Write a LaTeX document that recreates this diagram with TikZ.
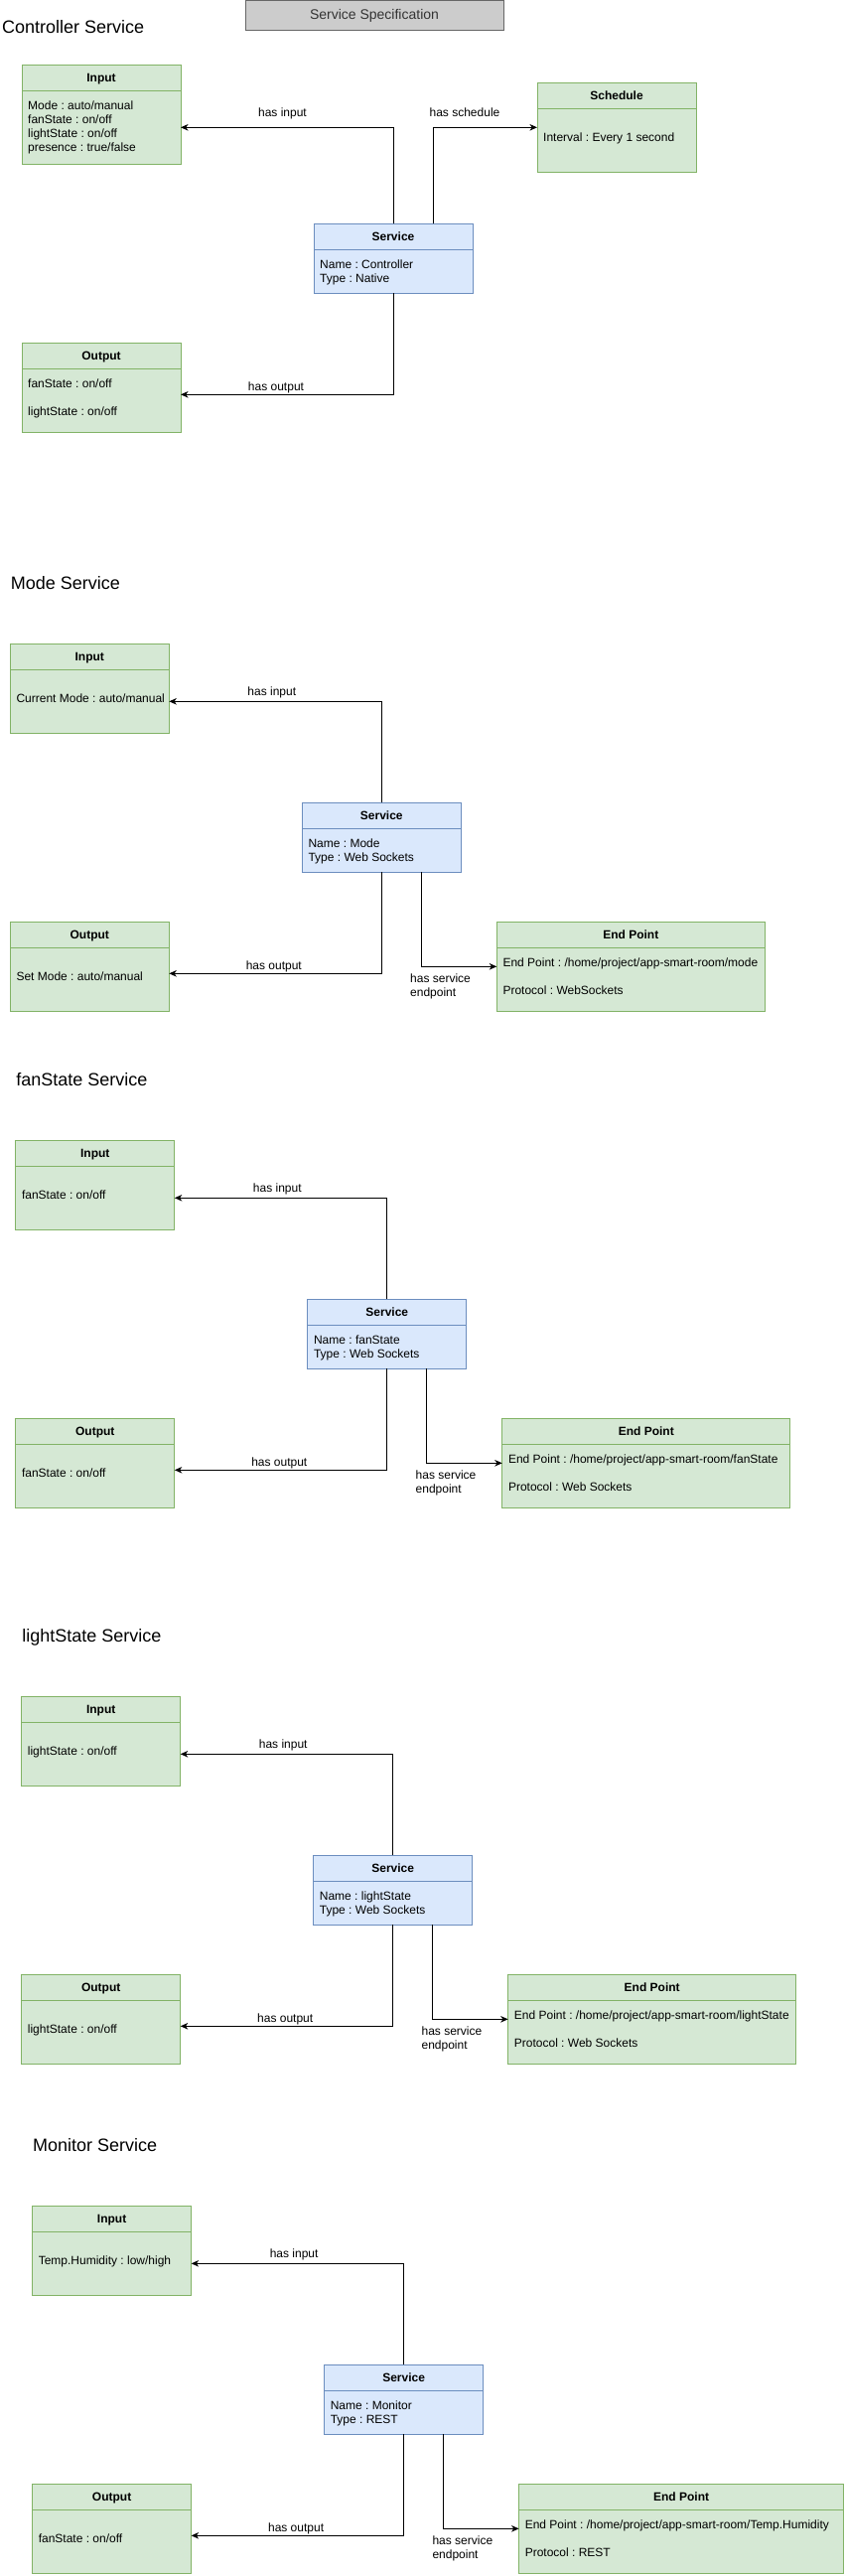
\documentclass[tikz,border=0pt]{standalone}
\usepackage{fontspec}
\setmainfont{Liberation Sans}
\usetikzlibrary{arrows.meta}
\definecolor{grnf}{HTML}{D5E8D4}
\definecolor{grnd}{HTML}{82B366}
\definecolor{bluf}{HTML}{DAE8FC}
\definecolor{blud}{HTML}{6C8EBF}
\definecolor{specf}{HTML}{CCCCCC}
\definecolor{specd}{HTML}{666666}
\definecolor{spect}{HTML}{333333}
\frenchspacing
\begin{document}
\begin{tikzpicture}[x=1pt,y=-1pt,>={Stealth[length=7.5pt,width=6.5pt,inset=2.2pt]},
	grn/.style={draw=grnd,fill=grnf,line width=1pt,inner sep=0,outer sep=0,anchor=north west,minimum width=160,minimum height=90},
	blu/.style={draw=blud,fill=bluf,line width=1pt,inner sep=0,outer sep=0,anchor=north west,minimum width=160,minimum height=70},
	gsep/.style={draw=grnd,line width=1pt},
	bsep/.style={draw=blud,line width=1pt},
	hdr/.style={font=\bfseries\fontsize{12}{14}\selectfont,anchor=base,inner sep=0},
	txt/.style={font=\fontsize{12}{14.2}\selectfont,align=left,anchor=north west,inner sep=0},
	one/.style={font=\fontsize{12}{14.2}\selectfont,anchor=base west,inner sep=0},
	lbl/.style={font=\fontsize{12}{14}\selectfont,anchor=base,inner sep=0},
	lbl2/.style={font=\fontsize{12}{13.6}\selectfont,align=left,anchor=north west,inner sep=0},
	ttl/.style={font=\fontsize{18}{21}\selectfont,anchor=base west,inner sep=0},
	flow/.style={->,line width=1pt}]
	\useasboundingbox (0,0) rectangle (851,2594);

	\node[draw=specd,fill=specf,line width=1pt,minimum width=260,minimum height=30,inner sep=0,text=spect,font=\fontsize{14}{16}\selectfont] (spec) at (377,15.5) {Service Specification};

	\node[ttl] (t1) at (2,33.3) {Controller Service};

	\node[grn,minimum height=100] (in1) at (22,65.3) {};
	\draw[gsep] ([yshift=-26pt]in1.north west) -- ([yshift=-26pt]in1.north east);
	\node[hdr] (in1h) at ([yshift=-17.3pt]in1.north) {Input};
	\node[txt] (in1b) at ([xshift=6pt,yshift=-36pt]in1.north west) {Mode : auto/manual\\fanState : on/off\\lightState : on/off\\presence : true/false};

	\node[grn] (sch1) at (541,83.3) {};
	\draw[gsep] ([yshift=-26pt]sch1.north west) -- ([yshift=-26pt]sch1.north east);
	\node[hdr] (sch1h) at ([yshift=-17.3pt]sch1.north) {Schedule};
	\node[one] (sch1b) at ([xshift=6pt,yshift=-59pt]sch1.north west) {Interval : Every 1 second};

	\node[blu] (svc1) at (316,225.3) {};
	\draw[bsep] ([yshift=-26pt]svc1.north west) -- ([yshift=-26pt]svc1.north east);
	\node[hdr] (svc1h) at ([yshift=-17.3pt]svc1.north) {Service};
	\node[txt] (svc1b) at ([xshift=6pt,yshift=-36pt]svc1.north west) {Name : Controller\\Type : Native};

	\node[grn] (out1) at (22,345.3) {};
	\draw[gsep] ([yshift=-26pt]out1.north west) -- ([yshift=-26pt]out1.north east);
	\node[hdr] (out1h) at ([yshift=-17.3pt]out1.north) {Output};
	\node[txt] (out1b) at ([xshift=6pt,yshift=-36pt]out1.north west) {fanState : on/off\\[14pt]lightState : on/off};

	\draw[flow] (svc1.north) |- ([yshift=-63pt]in1.north east);
	\draw[flow] ([xshift=40pt]svc1.north) |- ([yshift=-45pt]sch1.north west);
	\draw[flow] (svc1.south) |- ([yshift=-52pt]out1.north east);
	\node[lbl] (l1in) at (284.5,117.2) {has input};
	\node[lbl] (l1sch) at (468,117.5) {has schedule};
	\node[lbl] (l1out) at (278,393.2) {has output};

	\begin{scope}[shift={(10.3,648.3)}]
	\node[ttl] (t2) at (0.4,-55.2) {Mode Service};

	\node[grn] (in2) at (0,0) {};
	\draw[gsep] ([yshift=-26pt]in2.north west) -- ([yshift=-26pt]in2.north east);
	\node[hdr] (in2h) at ([yshift=-17.3pt]in2.north) {Input};
	\node[one] (in2b) at (6,59) {Current Mode : auto/manual};

	\node[blu] (svc2) at (294,160) {};
	\draw[bsep] ([yshift=-26pt]svc2.north west) -- ([yshift=-26pt]svc2.north east);
	\node[hdr] (svc2h) at ([yshift=-17.3pt]svc2.north) {Service};
	\node[txt] (svc2b) at (300,196) {Name : Mode\\Type : Web Sockets};

	\node[grn] (out2) at (0,280) {};
	\draw[gsep] ([yshift=-26pt]out2.north west) -- ([yshift=-26pt]out2.north east);
	\node[hdr] (out2h) at ([yshift=-17.3pt]out2.north) {Output};
	\node[one] (out2b) at (6,339) {Set Mode : auto/manual};

	\node[grn,minimum width=270] (ep2) at (490,280) {};
	\draw[gsep] ([yshift=-26pt]ep2.north west) -- ([yshift=-26pt]ep2.north east);
	\node[hdr] (ep2h) at ([yshift=-17.3pt]ep2.north) {End Point};
	\node[txt] (ep2b) at (496,316) {End Point : /home/project/app-smart-room/mode\\[14.2pt]Protocol : WebSockets};

	\draw[flow] (svc2.north) |- ([yshift=-58pt]in2.north east);
	\draw[flow] (svc2.south) |- ([yshift=-52pt]out2.north east);
	\draw[flow] ([xshift=40pt]svc2.south) |- ([yshift=-45pt]ep2.north west);
	\node[lbl] (l2in) at (263.5,51.9) {has input};
	\node[lbl] (l2out) at (265.5,327.9) {has output};
	\node[lbl2] (l2ep) at (402.7,332.2) {has service\\endpoint};
	\end{scope}

	\begin{scope}[shift={(15.8,1148.3)}]
	\node[ttl] (t3) at (0.4,-55.2) {fanState Service};

	\node[grn] (in3) at (0,0) {};
	\draw[gsep] ([yshift=-26pt]in3.north west) -- ([yshift=-26pt]in3.north east);
	\node[hdr] (in3h) at ([yshift=-17.3pt]in3.north) {Input};
	\node[one] (in3b) at (6,59) {fanState : on/off};

	\node[blu] (svc3) at (294,160) {};
	\draw[bsep] ([yshift=-26pt]svc3.north west) -- ([yshift=-26pt]svc3.north east);
	\node[hdr] (svc3h) at ([yshift=-17.3pt]svc3.north) {Service};
	\node[txt] (svc3b) at (300,196) {Name : fanState\\Type : Web Sockets};

	\node[grn] (out3) at (0,280) {};
	\draw[gsep] ([yshift=-26pt]out3.north west) -- ([yshift=-26pt]out3.north east);
	\node[hdr] (out3h) at ([yshift=-17.3pt]out3.north) {Output};
	\node[one] (out3b) at (6,339) {fanState : on/off};

	\node[grn,minimum width=290] (ep3) at (490,280) {};
	\draw[gsep] ([yshift=-26pt]ep3.north west) -- ([yshift=-26pt]ep3.north east);
	\node[hdr] (ep3h) at ([yshift=-17.3pt]ep3.north) {End Point};
	\node[txt] (ep3b) at (496,316) {End Point : /home/project/app-smart-room/fanState\\[14.2pt]Protocol : Web Sockets};

	\draw[flow] (svc3.north) |- ([yshift=-58pt]in3.north east);
	\draw[flow] (svc3.south) |- ([yshift=-52pt]out3.north east);
	\draw[flow] ([xshift=40pt]svc3.south) |- ([yshift=-45pt]ep3.north west);
	\node[lbl] (l3in) at (263.5,51.9) {has input};
	\node[lbl] (l3out) at (265.5,327.9) {has output};
	\node[lbl2] (l3ep) at (402.7,332.2) {has service\\endpoint};
	\end{scope}

	\begin{scope}[shift={(21.7,1708.3)}]
	\node[ttl] (t4) at (0.4,-55.2) {lightState Service};

	\node[grn] (in4) at (0,0) {};
	\draw[gsep] ([yshift=-26pt]in4.north west) -- ([yshift=-26pt]in4.north east);
	\node[hdr] (in4h) at ([yshift=-17.3pt]in4.north) {Input};
	\node[one] (in4b) at (6,59) {lightState : on/off};

	\node[blu] (svc4) at (294,160) {};
	\draw[bsep] ([yshift=-26pt]svc4.north west) -- ([yshift=-26pt]svc4.north east);
	\node[hdr] (svc4h) at ([yshift=-17.3pt]svc4.north) {Service};
	\node[txt] (svc4b) at (300,196) {Name : lightState\\Type : Web Sockets};

	\node[grn] (out4) at (0,280) {};
	\draw[gsep] ([yshift=-26pt]out4.north west) -- ([yshift=-26pt]out4.north east);
	\node[hdr] (out4h) at ([yshift=-17.3pt]out4.north) {Output};
	\node[one] (out4b) at (6,339) {lightState : on/off};

	\node[grn,minimum width=290] (ep4) at (490,280) {};
	\draw[gsep] ([yshift=-26pt]ep4.north west) -- ([yshift=-26pt]ep4.north east);
	\node[hdr] (ep4h) at ([yshift=-17.3pt]ep4.north) {End Point};
	\node[txt] (ep4b) at (496,316) {End Point : /home/project/app-smart-room/lightState\\[14.2pt]Protocol : Web Sockets};

	\draw[flow] (svc4.north) |- ([yshift=-58pt]in4.north east);
	\draw[flow] (svc4.south) |- ([yshift=-52pt]out4.north east);
	\draw[flow] ([xshift=40pt]svc4.south) |- ([yshift=-45pt]ep4.north west);
	\node[lbl] (l4in) at (263.5,51.9) {has input};
	\node[lbl] (l4out) at (265.5,327.9) {has output};
	\node[lbl2] (l4ep) at (402.7,332.2) {has service\\endpoint};
	\end{scope}

	\begin{scope}[shift={(32.6,2221.3)}]
	\node[ttl] (t5) at (0.4,-55.2) {Monitor Service};

	\node[grn] (in5) at (0,0) {};
	\draw[gsep] ([yshift=-26pt]in5.north west) -- ([yshift=-26pt]in5.north east);
	\node[hdr] (in5h) at ([yshift=-17.3pt]in5.north) {Input};
	\node[one] (in5b) at (6,59) {Temp.Humidity : low/high};

	\node[blu] (svc5) at (294,160) {};
	\draw[bsep] ([yshift=-26pt]svc5.north west) -- ([yshift=-26pt]svc5.north east);
	\node[hdr] (svc5h) at ([yshift=-17.3pt]svc5.north) {Service};
	\node[txt] (svc5b) at (300,196) {Name : Monitor\\Type : REST};

	\node[grn] (out5) at (0,280) {};
	\draw[gsep] ([yshift=-26pt]out5.north west) -- ([yshift=-26pt]out5.north east);
	\node[hdr] (out5h) at ([yshift=-17.3pt]out5.north) {Output};
	\node[one] (out5b) at (6,339) {fanState : on/off};

	\node[grn,minimum width=327] (ep5) at (490,280) {};
	\draw[gsep] ([yshift=-26pt]ep5.north west) -- ([yshift=-26pt]ep5.north east);
	\node[hdr] (ep5h) at ([yshift=-17.3pt]ep5.north) {End Point};
	\node[txt] (ep5b) at (496,316) {End Point : /home/project/app-smart-room/Temp.Humidity\\[14.2pt]Protocol : REST};

	\draw[flow] (svc5.north) |- ([yshift=-58pt]in5.north east);
	\draw[flow] (svc5.south) |- ([yshift=-52pt]out5.north east);
	\draw[flow] ([xshift=40pt]svc5.south) |- ([yshift=-45pt]ep5.north west);
	\node[lbl] (l5in) at (263.5,51.9) {has input};
	\node[lbl] (l5out) at (265.5,327.9) {has output};
	\node[lbl2] (l5ep) at (402.7,332.2) {has service\\endpoint};
	\end{scope}
\end{tikzpicture}
\end{document}
